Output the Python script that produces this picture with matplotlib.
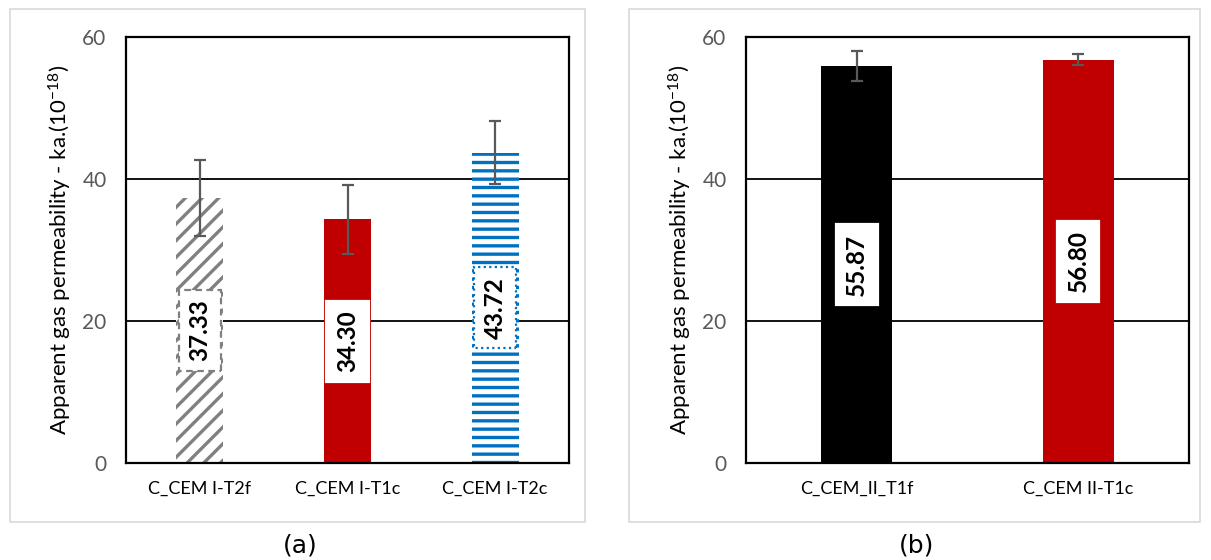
import numpy as np
import matplotlib.pyplot as plt
from matplotlib.patches import Rectangle

# panel (a)
cats_a = ['C_CEM I-T2f', 'C_CEM I-T1c', 'C_CEM I-T2c']
vals_a = [37.33, 34.30, 43.72]
errs_a = [5.3, 4.8, 4.45]

# panel (b)
cats_b = ['C_CEM_II_T1f', 'C_CEM II-T1c']
vals_b = [55.87, 56.80]
errs_b = [2.1, 0.8]

plt.rcParams['font.family'] = ['Lato', 'DejaVu Sans']
plt.rcParams['mathtext.default'] = 'regular'
plt.rcParams['hatch.linewidth'] = 2.4

fig = plt.figure(figsize=(12.11, 5.6), dpi=100)
W, H = 1211, 560

def fx(px):
    return px / W

def fy(py):
    return 1 - py / H

# light grey frames around each panel
for x0, x1 in [(10, 585), (629, 1200)]:
    fig.patches.append(Rectangle((fx(x0), fy(522)), fx(x1 - x0), (522 - 9) / H,
                                 transform=fig.transFigure, fill=False,
                                 edgecolor='#d9d9d9', linewidth=1.2))

ylabel = 'Apparent gas permeability - ka.(10$^{-18}$)'

def style_axes(ax, cats):
    ax.set_ylim(0, 60)
    ax.set_yticks([0, 20, 40, 60])
    ax.set_xlim(-0.5, len(cats) - 0.5)
    ax.set_xticks(range(len(cats)))
    ax.set_xticklabels(cats, fontsize=13)
    ax.tick_params(axis='y', length=0, labelsize=15, labelcolor='#595959', pad=14)
    ax.tick_params(axis='x', length=0, pad=13)
    for s in ax.spines.values():
        s.set_linewidth(1.6)
        s.set_color('black')
    for g in [20, 40]:
        ax.axhline(g, color='black', linewidth=1.3, zorder=1)
    ax.set_ylabel(ylabel, fontsize=16, labelpad=6)

def value_label(ax, x, v, edge, ls):
    ax.text(x, v / 2, f'{v:.2f}', rotation=90, ha='center', va='center',
            fontsize=17.5, fontweight='bold', zorder=5,
            bbox=dict(boxstyle='square,pad=0.4', facecolor='white',
                      edgecolor=edge, linestyle=ls, linewidth=1.6))

# ---- (a)
ax1 = fig.add_axes([fx(126), fy(463), fx(443), 426 / H])
x = np.arange(len(cats_a))
w = 0.32
ax1.bar(x[0], vals_a[0], w, color='white', edgecolor='#808080', hatch='//',
        linewidth=0, zorder=2)
ax1.bar(x[1], vals_a[1], w, color='#c00000', linewidth=0, zorder=2)
ax1.bar(x[2], vals_a[2], w, color='white', edgecolor='#0070c0', hatch='--',
        linewidth=0, zorder=2)
ax1.errorbar(x, vals_a, yerr=errs_a, fmt='none', ecolor='#595959',
             elinewidth=1.6, capsize=4.5, capthick=1.6, zorder=4)
style_axes(ax1, cats_a)
value_label(ax1, x[0], vals_a[0], '#808080', (0, (3, 2)))
value_label(ax1, x[1], vals_a[1], 'white', '-')
value_label(ax1, x[2], vals_a[2], '#0070c0', (0, (1, 1.5)))

# ---- (b)
ax2 = fig.add_axes([fx(746), fy(463), fx(443), 426 / H])
x = np.arange(len(cats_b))
ax2.bar(x, vals_b, w, color=['black', '#c00000'], linewidth=0, zorder=2)
ax2.errorbar(x, vals_b, yerr=errs_b, fmt='none', ecolor='#595959',
             elinewidth=1.6, capsize=4.5, capthick=1.6, zorder=4)
style_axes(ax2, cats_b)
for xi, v in zip(x, vals_b):
    value_label(ax2, xi, v, 'white', '-')

fig.text(fx(300), fy(546), '(a)', ha='center', va='center', fontsize=18,
         family='DejaVu Sans')
fig.text(fx(917), fy(546), '(b)', ha='center', va='center', fontsize=18,
         family='DejaVu Sans')

fig.savefig('out.png', dpi=100)
